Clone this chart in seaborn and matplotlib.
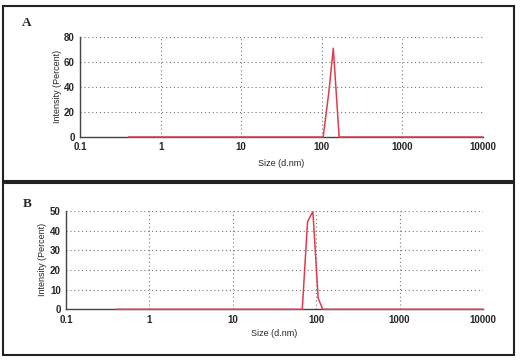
import numpy as np
import pandas as pd
import matplotlib
matplotlib.use("Agg")
import matplotlib.pyplot as plt
import matplotlib.ticker as mticker
from matplotlib.patches import Rectangle
import seaborn as sns

# size distribution by intensity
size_a = [0.4, 104.0, 122.4, 139.0, 164.2, 10000]
intensity_a = [0, 0, 36, 71, 0, 0]
size_b = [0.4, 68.1, 78.8, 91.3, 105.7, 120.0, 10000]
intensity_b = [0, 0, 44.6, 49.7, 5.6, 0, 0]

x_ticks = [0.1, 1, 10, 100, 1000, 10000]
x_ticklabels = ["0.1", "1", "10", "100", "1000", "10000"]
panel_names = ["A", "B"]

sns.set_style("white")
plt.rcParams["font.family"] = ["Liberation Sans", "DejaVu Sans"]

red = "#e23b4e"
fig = plt.figure(figsize=(5.2, 3.61), dpi=100)

# frames around each panel
fig.patches.append(Rectangle((0.0058, 0.4986), 0.9827, 0.4848, transform=fig.transFigure,
                             fill=False, lw=1.5, ec="#222222"))
fig.patches.append(Rectangle((0.0058, 0.0166), 0.9827, 0.4765, transform=fig.transFigure,
                             fill=False, lw=1.5, ec="#222222"))

ax_a = fig.add_axes([0.1538, 0.6205, 0.775, 0.277])
ax_b = fig.add_axes([0.1269, 0.1432, 0.8019, 0.2723])

setups = [
    (ax_a, size_a, intensity_a, 80, [0, 20, 40, 60, 80], 10, (0.043, 0.935), (0.54, 0.548), (0.11, 0.76)),
    (ax_b, size_b, intensity_b, 50, [0, 10, 20, 30, 40, 50], 5, (0.043, 0.435), (0.527, 0.075), (0.081, 0.28)),
]

for name, (ax, xs, ys, ymax, yt, ymin_step, letter_pos, xlab_pos, ylab_pos) in zip(panel_names, setups):
    df = pd.DataFrame({"size": xs, "intensity": ys})
    sns.lineplot(data=df, x="size", y="intensity", ax=ax, color=red, lw=1.1,
                 estimator=None, zorder=5, clip_on=False)
    ax.set_xscale("log")
    ax.set_xlim(0.1, 10000)
    ax.set_ylim(0, ymax)
    ax.set_xticks(x_ticks)
    ax.set_xticklabels(x_ticklabels)
    ax.xaxis.set_minor_locator(mticker.LogLocator(base=10, subs=np.arange(2, 10)))
    ax.xaxis.set_minor_formatter(mticker.NullFormatter())
    ax.set_yticks(yt)
    ax.yaxis.set_minor_locator(mticker.MultipleLocator(ymin_step))
    ax.tick_params(axis="both", which="major", labelsize=7, length=3.5, width=0.9,
                   direction="inout", color="#333333", pad=2)
    ax.tick_params(axis="both", which="minor", length=2.5, width=0.9,
                   direction="inout", color="#333333")
    for lbl in ax.get_xticklabels() + ax.get_yticklabels():
        lbl.set_fontweight("bold")
    ax.grid(True, which="major", ls=(0, (1, 2.5)), color="#777777", lw=0.8)
    for s in ["top", "right"]:
        ax.spines[s].set_visible(False)
    for s in ["left", "bottom"]:
        ax.spines[s].set_color("#444444")
        ax.spines[s].set_linewidth(1.0)
    ax.set_xlabel("")
    ax.set_ylabel("")
    fig.text(xlab_pos[0], xlab_pos[1], "Size (d.nm)", fontsize=6.5, ha="center", va="center")
    fig.text(ylab_pos[0], ylab_pos[1], "Intensity (Percent)", fontsize=6.5, rotation=90,
             ha="center", va="center")
    fig.text(letter_pos[0], letter_pos[1], name, fontsize=9.5, fontweight="bold",
             family=["Liberation Serif", "DejaVu Serif"], ha="left", va="center")

fig.savefig("out.png", dpi=100)
